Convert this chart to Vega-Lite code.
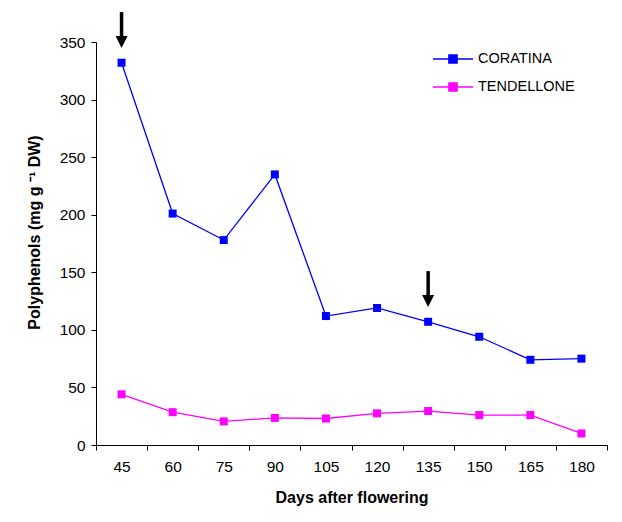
{
  "$schema": "https://vega.github.io/schema/vega-lite/v6.json",
  "autosize": {"type": "none"},
  "width": 511,
  "height": 403,
  "padding": {"left": 96, "top": 42, "right": 15, "bottom": 77},
  "background": "white",
  "config": {
    "view": {"stroke": null},
    "font": "Liberation Sans",
    "axis": {"labelFont": "Liberation Sans", "titleFont": "Liberation Sans", "labelColor": "black", "titleColor": "black", "domainColor": "black", "tickColor": "black", "grid": false}
  },
  "datasets": {
    "series": [
      {"day": 45, "cultivar": "CORATINA", "value": 332},
      {"day": 60, "cultivar": "CORATINA", "value": 201},
      {"day": 75, "cultivar": "CORATINA", "value": 178},
      {"day": 90, "cultivar": "CORATINA", "value": 235},
      {"day": 105, "cultivar": "CORATINA", "value": 112},
      {"day": 120, "cultivar": "CORATINA", "value": 119},
      {"day": 135, "cultivar": "CORATINA", "value": 107},
      {"day": 150, "cultivar": "CORATINA", "value": 94},
      {"day": 165, "cultivar": "CORATINA", "value": 74},
      {"day": 180, "cultivar": "CORATINA", "value": 75},
      {"day": 45, "cultivar": "TENDELLONE", "value": 44},
      {"day": 60, "cultivar": "TENDELLONE", "value": 28.5},
      {"day": 75, "cultivar": "TENDELLONE", "value": 20.5},
      {"day": 90, "cultivar": "TENDELLONE", "value": 23.5},
      {"day": 105, "cultivar": "TENDELLONE", "value": 23},
      {"day": 120, "cultivar": "TENDELLONE", "value": 27.5},
      {"day": 135, "cultivar": "TENDELLONE", "value": 29.5},
      {"day": 150, "cultivar": "TENDELLONE", "value": 26},
      {"day": 165, "cultivar": "TENDELLONE", "value": 26},
      {"day": 180, "cultivar": "TENDELLONE", "value": 10}
    ],
    "arrows": [
      {"day": 45, "top": 376, "head": 350},
      {"day": 135, "top": 151, "head": 125}
    ]
  },
  "encoding": {
    "x": {
      "field": "day", "type": "ordinal",
      "scale": {"type": "band", "paddingInner": 0, "paddingOuter": 0, "domain": [45, 60, 75, 90, 105, 120, 135, 150, 165, 180]},
      "axis": {"title": "Days after flowering", "labelAngle": 0, "tickBand": "extent", "tickSize": 5, "labelPadding": 9, "labelFontSize": 15.5, "titleFontSize": 16, "titleFontWeight": "bold", "titlePadding": 15, "domainWidth": 1}
    }
  },
  "layer": [
    {
      "data": {"name": "series"},
      "mark": {"type": "line", "strokeWidth": 1.3},
      "encoding": {
        "y": {
          "field": "value", "type": "quantitative",
          "scale": {"domain": [0, 350], "nice": false, "zero": true},
          "axis": {"title": "Polyphenols (mg g ⁻¹ DW)", "values": [0, 50, 100, 150, 200, 250, 300, 350], "tickSize": 5, "labelPadding": 6, "labelFontSize": 15.5, "titleFontSize": 16, "titleFontWeight": "bold", "titlePadding": 17, "titleY": 190}
        },
        "color": {
          "field": "cultivar", "type": "nominal",
          "scale": {"domain": ["CORATINA", "TENDELLONE"], "range": ["#0000ff", "#ff00ff"]},
          "legend": {
            "title": null, "orient": "none", "legendX": 342, "legendY": 2,
            "symbolType": "M-1.43,0H1.43M-0.29,-0.29H0.29V0.29H-0.29Z",
            "symbolSize": 784, "symbolStrokeWidth": 1.5,
            "labelOffset": 10, "labelFontSize": 14.5, "labelColor": "black", "labelFont": "Liberation Sans",
            "rowPadding": 5
          }
        }
      }
    },
    {
      "data": {"name": "series"},
      "mark": {"type": "point", "shape": "square", "filled": true, "size": 64, "opacity": 1},
      "encoding": {
        "y": {"field": "value", "type": "quantitative"},
        "color": {"field": "cultivar", "type": "nominal"}
      }
    },
    {
      "data": {"name": "arrows"},
      "mark": {"type": "rule", "strokeWidth": 3.5, "color": "black"},
      "encoding": {
        "y": {"field": "top", "type": "quantitative"},
        "y2": {"field": "head"}
      }
    },
    {
      "data": {"name": "arrows"},
      "mark": {"type": "point", "shape": "M-1,-1L1,-1L0,1Z", "filled": true, "size": 144, "color": "black", "opacity": 1},
      "encoding": {
        "y": {"field": "head", "type": "quantitative"}
      }
    }
  ]
}
